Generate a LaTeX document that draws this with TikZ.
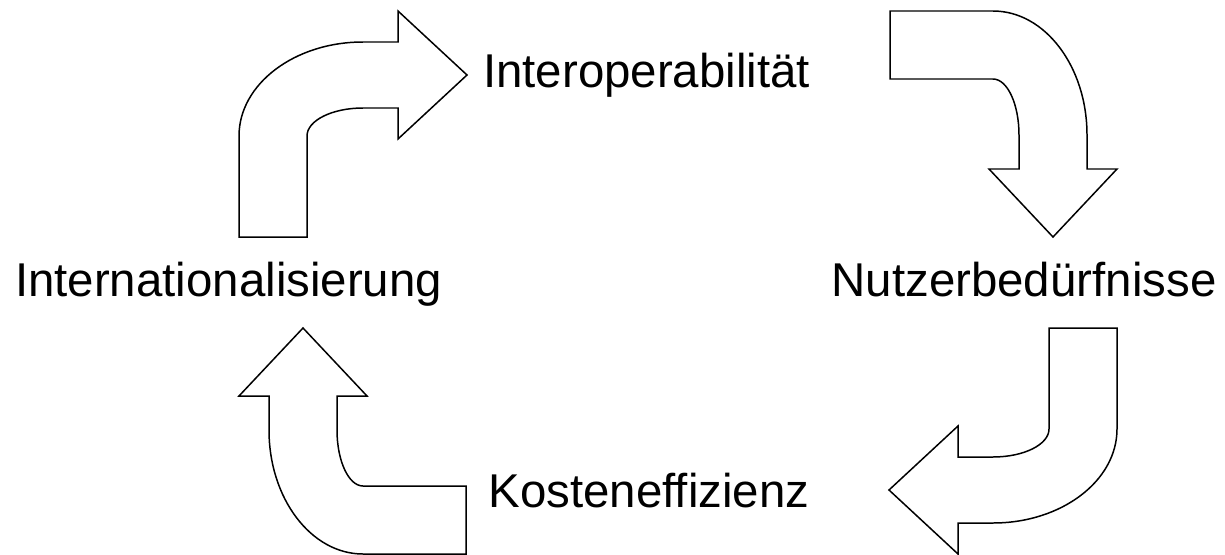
\documentclass[tikz,border=0pt]{standalone}
\usepackage{fontspec}
\setmainfont{Liberation Sans}
\usepackage{tikz}
\tikzset{
  stage/.style={inner sep=0pt,anchor=base,font=\fontsize{23.8}{28}\selectfont},
  bentarrow/.style={draw,line width=0.75pt,line join=miter,fill=white}
}

\begin{document}
\begin{tikzpicture}
\useasboundingbox (0bp,0bp) rectangle (612.5bp,-277.5bp);

\node (interop) at (323.3bp,-43.5bp)[stage] {Interoperabilität};
\node (nutzer) at (512bp,-148bp)[stage] {Nutzerbedürfnisse};
\node (kosten) at (324.5bp,-253.5bp)[stage] {Kosteneffizienz};
\node (intl) at (114.3bp,-148bp)[stage] {Internationalisierung};

% top left: up and to the right
\draw [bentarrow] (119.5bp,-118.5bp) -- (119.5bp,-68bp) arc(180:90:62bp and 47bp) -- (199bp,-21bp) -- (199bp,-5.5bp) -- (233.5bp,-37.5bp) -- (199bp,-69.5bp) -- (199bp,-54bp) -- (181.5bp,-54bp) arc(90:180:28bp and 14bp) -- (153.5bp,-118.5bp) -- cycle;
% top right: right and down
\draw [bentarrow] (445bp,-5.5bp) -- (496.5bp,-5.5bp) arc(90:0:47bp and 62bp) -- (543.5bp,-84.5bp) -- (558.5bp,-84.5bp) -- (526.5bp,-118.5bp) -- (494.5bp,-84.5bp) -- (509.5bp,-84.5bp) -- (509.5bp,-67.5bp) arc(0:90:13bp and 28bp) -- (445bp,-39.5bp) -- cycle;
% bottom right: down and to the left
\draw [bentarrow] (558.5bp,-164bp) -- (558.5bp,-214.5bp) arc(0:-90:62bp and 47bp) -- (479bp,-261.5bp) -- (479bp,-277bp) -- (444.5bp,-245bp) -- (479bp,-213bp) -- (479bp,-228.5bp) -- (496.5bp,-228.5bp) arc(-90:0:28bp and 14bp) -- (524.5bp,-164bp) -- cycle;
% bottom left: left and up
\draw [bentarrow] (233bp,-277bp) -- (181.5bp,-277bp) arc(-90:-180:47bp and 62bp) -- (134.5bp,-198bp) -- (119.5bp,-198bp) -- (151.5bp,-164bp) -- (183.5bp,-198bp) -- (168.5bp,-198bp) -- (168.5bp,-215bp) arc(180:270:13bp and 28bp) -- (233bp,-243bp) -- cycle;
\end{tikzpicture}
\end{document}
